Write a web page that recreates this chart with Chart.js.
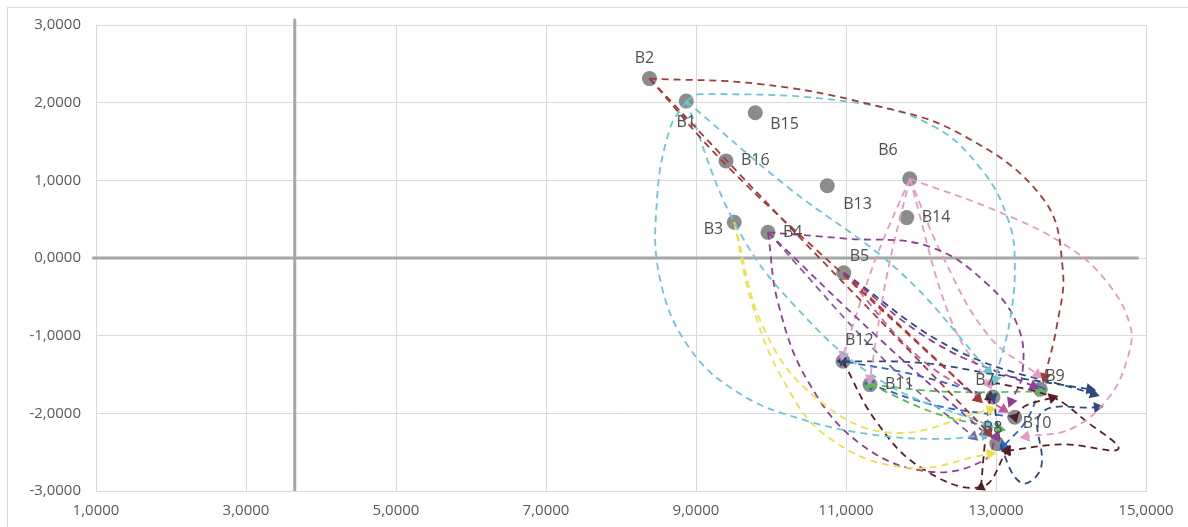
<!DOCTYPE html>
<html>
<head>
<meta charset="utf-8">
<script src="https://cdn.jsdelivr.net/npm/chart.js@4.4.1/dist/chart.umd.min.js"></script>
<style>
  html, body { margin: 0; padding: 0; background: #fff; }
  #wrap { position: relative; width: 1188px; height: 527px; overflow: hidden; }
  #frame { position: absolute; left: 7px; top: 7px; width: 1200px; height: 560px; border: 1px solid #d9d9d9; }
  canvas { position: absolute; left: 0; top: 0; }
</style>
</head>
<body>
<div id="wrap">
  <div id="frame"></div>
  <canvas id="scatter" width="1188" height="527"></canvas>
</div>
<script>
// bank positions (grey dots)
const banks  = ['B1','B2','B3','B4','B5','B6','B7','B8','B9','B10','B11','B12','B13','B14','B15','B16'];
const bankX  = [8.87, 8.38, 9.51, 9.96, 10.97, 11.85, 12.96, 13.01, 13.59, 13.25, 11.32, 10.96, 10.75, 11.81, 9.79, 9.40];
const bankY  = [2.02, 2.31, 0.46, 0.33, -0.19, 1.02, -1.79, -2.39, -1.69, -2.05, -1.63, -1.33, 0.93, 0.52, 1.87, 1.25];

// label placement relative to each dot: [dx, dy, align]
const labelOffsets = [
  [0, 21, 'center'], [-5, -20, 'center'], [-11, 7, 'right'], [15, 0, 'left'],
  [6, -16, 'left'], [-12, -28, 'right'], [-8, -17, 'center'], [-4, -15, 'center'],
  [5, -13, 'left'], [8, 6, 'left'], [15, 0, 'left'], [2, -21, 'left'],
  [16, 19, 'left'], [15, 0, 'left'], [15, 12, 'left'], [15, 0, 'left']
];

// crossing axes
const axisCrossX = 3.65;
const axisY = [[axisCrossX, -3], [axisCrossX, 3.08]];
const axisX = [[0.95, 0], [14.9, 0]];

// movement paths
const pathB2arc   = [[8.38,2.31],[9.85,2.24],[11.32,1.98],[12.52,1.60],[13.63,0.76],[13.89,-0.14],[13.81,-0.88],[13.65,-1.53]];
const pathB2a     = [[8.38,2.31],[9.4,1.2],[10.95,-0.2],[12.76,-1.81]];
const pathB2b     = [[8.38,2.31],[10.2,0.45],[11.6,-0.95],[12.9,-2.25]];
const pathB1arc   = [[8.87,2.02],[9.05,2.11],[11.05,2.01],[12.16,1.70],[12.83,1.11],[13.16,0.50],[13.25,-0.01],[13.19,-0.78],[12.99,-1.56]];
const pathB1loop  = [[8.87,2.02],[8.65,1.66],[8.48,0.76],[8.52,-0.27],[8.92,-1.17],[9.59,-1.75],[10.39,-2.07],[11.32,-2.27],[12.25,-2.33],[12.85,-2.28]];
const pathB1a     = [[8.87,2.02],[10.2,0.93],[11.72,-0.18],[12.9,-1.45]];
const pathB1b     = [[8.87,2.02],[9.51,0.46],[10.3,-0.6],[11.5,-1.6],[12.9,-2.15]];
const pathB3a     = [[9.51,0.46],[9.75,-0.6],[10.15,-1.55],[10.75,-2.3],[11.8,-2.7],[12.92,-2.52]];
const pathB3b     = [[9.51,0.46],[9.9,-0.9],[10.6,-1.8],[11.6,-2.25],[12.92,-1.95]];
const pathB4a     = [[9.96,0.33],[10.1,-0.6],[10.5,-1.6],[11.2,-2.4],[12.1,-2.75],[12.85,-2.6],[13.0,-2.3]];
const pathB4b     = [[9.96,0.33],[11.0,0.25],[12.1,0.15],[12.9,-0.35],[13.3,-0.9],[13.35,-1.5],[13.2,-1.85]];
const pathB4c     = [[9.96,0.33],[11.4,-1.0],[12.85,-2.25]];
const pathB5a     = [[10.97,-0.19],[12.2,-1.1],[13.5,-1.65]];
const pathB6loop  = [[11.85,1.02],[13.05,0.59],[13.95,0.15],[14.48,-0.31],[14.79,-0.88],[14.75,-1.30],[14.5,-1.8],[14.0,-2.2],[13.4,-2.3]];
const pathB6a     = [[11.85,1.02],[12.3,0.0],[12.9,-1.0],[13.55,-1.5]];
const pathB6b     = [[11.85,1.02],[11.55,-0.2],[11.32,-1.55]];
const pathB6c     = [[11.85,1.02],[11.4,0.0],[10.96,-1.25]];
const pathB6d     = [[11.85,1.02],[12.4,-0.8],[12.9,-1.62]];
const pathB12a    = [[10.96,-1.33],[12.0,-1.35],[13.0,-1.5],[14.25,-1.69]];
const pathB7loop  = [[12.96,-1.79],[13.1,-2.5],[13.35,-2.9],[13.6,-2.7],[13.6,-2.0],[14.35,-1.92]];
const pathB5b     = [[10.97,-0.19],[12.5,-1.2],[14.3,-1.75]];
const pathB12b    = [[10.96,-1.33],[11.4,-2.1],[12.0,-2.7],[12.8,-2.95],[13.15,-2.48]];
const pathB9loop  = [[12.96,-1.6],[13.75,-1.79],[14.2,-2.1],[14.63,-2.46],[13.9,-2.4],[13.15,-2.48]];
const pathB8      = [[12.8,-2.95],[12.85,-2.4],[12.92,-1.79]];
const pathB10     = [[13.25,-2.05],[13.4,-1.9],[13.75,-1.8]];
const pathB11a    = [[11.32,-1.63],[12.3,-1.72],[13.59,-1.72]];
const pathB11b    = [[11.32,-1.63],[12.2,-2.0],[13.05,-2.2]];
const pathB7back  = [[12.96,-1.79],[11.9,-1.5],[10.96,-1.33]];
const pathB10back = [[13.25,-2.05],[12.2,-1.9],[11.32,-1.63]];
const pathB9back  = [[13.59,-1.69],[13.4,-2.1],[13.1,-2.42]];
const pathB5c     = [[10.97,-0.19],[12.76,-1.81]];
const pathB5d     = [[10.97,-0.19],[12.0,-1.3],[13.1,-1.95]];
const pathB4d     = [[9.96,0.33],[11.6,-1.4],[12.7,-2.3]];

const paths = [
  [pathB2arc, '#a33a3a'], [pathB2a, '#a33a3a'], [pathB2b, '#a33a3a'],
  [pathB1arc, '#6cc4d6'], [pathB1loop, '#6cc4d6'], [pathB1a, '#6cc4d6'], [pathB1b, '#6cc4d6'],
  [pathB3a, '#ece14a'], [pathB3b, '#ece14a'],
  [pathB4a, '#8e3e94'], [pathB4b, '#8e3e94'], [pathB4c, '#8e3e94'], [pathB5a, '#8e3e94'],
  [pathB6loop, '#e29ac6'], [pathB6a, '#e29ac6'], [pathB6b, '#e29ac6'], [pathB6c, '#e29ac6'], [pathB6d, '#e29ac6'],
  [pathB12a, '#2f4b7c'], [pathB7loop, '#2f4b7c'], [pathB5b, '#2f4b7c'],
  [pathB12b, '#561d25'], [pathB9loop, '#561d25'], [pathB8, '#561d25'], [pathB10, '#561d25'],
  [pathB11a, '#5db85a'], [pathB11b, '#5db85a'],
  [pathB7back, '#2e63c4'], [pathB10back, '#2e63c4'], [pathB9back, '#2e63c4'],
  [pathB5c, '#e02b2b'], [pathB5d, '#c05c9e'], [pathB4d, '#8064a2']
];

const fmt = v => v.toFixed(4).replace('.', ',');
const toPts = arr => arr.map(p => ({ x: p[0], y: p[1] }));

// arrowhead turned along the adjacent segment
function arrowRotation(ctx) {
  const ds = ctx.chart.data.datasets[ctx.datasetIndex];
  const i = ctx.dataIndex;
  const j = i === 0 ? 1 : i;
  const sx = ctx.chart.scales.x, sy = ctx.chart.scales.y;
  const a = ds.data[j - 1], b = ds.data[j];
  const dx = sx.getPixelForValue(b.x) - sx.getPixelForValue(a.x);
  const dy = sy.getPixelForValue(b.y) - sy.getPixelForValue(a.y);
  return Math.atan2(dx, -dy) * 180 / Math.PI;
}

// arrowheads at path ends; paths that leave the low cluster get one at the start too
function arrowRadius(ctx, pts) {
  if (ctx.dataIndex === pts.length - 1) return 6.5;
  if (ctx.dataIndex === 0 && pts[0][1] < -1) return 6;
  return 0;
}

const lineSets = paths.map(([pts, col]) => ({
  data: toPts(pts),
  showLine: true,
  borderColor: col,
  backgroundColor: col,
  borderWidth: 1.8,
  borderDash: [7, 5],
  tension: 0.4,
  pointStyle: 'triangle',
  pointRadius: c => arrowRadius(c, pts),
  pointRotation: arrowRotation,
  pointBorderWidth: 0,
  order: 2
}));

const bankLabels = {
  id: 'bankLabels',
  afterDatasetsDraw(chart) {
    const { ctx, scales: { x, y } } = chart;
    ctx.save();
    ctx.font = '16px "Open Sans", sans-serif';
    ctx.fillStyle = '#505050';
    ctx.textBaseline = 'middle';
    banks.forEach((name, i) => {
      const [dx, dy, align] = labelOffsets[i];
      ctx.textAlign = align;
      ctx.fillText(name, x.getPixelForValue(bankX[i]) + dx, y.getPixelForValue(bankY[i]) + dy);
    });
    ctx.restore();
  }
};

new Chart(document.getElementById('scatter'), {
  type: 'scatter',
  data: {
    datasets: [
      { data: toPts(axisY), showLine: true, borderColor: '#a6a6a6', borderWidth: 3, pointRadius: 0, order: 5 },
      { data: toPts(axisX), showLine: true, borderColor: '#a6a6a6', borderWidth: 3, pointRadius: 0, order: 5 },
      { data: bankX.map((v, i) => ({ x: v, y: bankY[i] })), pointRadius: 7.5, pointBackgroundColor: '#8c8c8c',
        pointBorderWidth: 0, order: 3 },
      ...lineSets
    ]
  },
  options: {
    responsive: false,
    animation: false,
    clip: false,
    layout: { padding: { left: 0, right: 42, top: 25, bottom: 0 } },
    plugins: { legend: { display: false }, tooltip: { enabled: false } },
    scales: {
      x: {
        type: 'linear', min: 1, max: 15,
        afterFit: s => { s.height = 36; },
        ticks: { stepSize: 2, padding: 11, color: '#595959', font: { family: 'Open Sans', size: 15 }, callback: v => fmt(v) },
        grid: { color: '#d9d9d9', drawTicks: false },
        border: { color: '#d9d9d9' }
      },
      y: {
        min: -3, max: 3,
        afterFit: s => { s.width = 96; },
        ticks: { stepSize: 1, padding: 15, color: '#595959', font: { family: 'Open Sans', size: 15 }, callback: v => fmt(v) },
        grid: { color: '#d9d9d9', drawTicks: false },
        border: { color: '#d9d9d9' }
      }
    }
  },
  plugins: [bankLabels]
});
</script>
</body>
</html>
